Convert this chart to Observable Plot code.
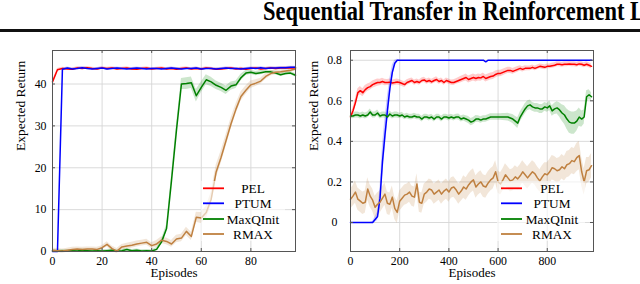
<!DOCTYPE html>
<html><head><meta charset="utf-8">
<script src="https://cdn.jsdelivr.net/npm/d3@7"></script>
<script src="https://cdn.jsdelivr.net/npm/@observablehq/plot@0.6"></script>
<style>
body{margin:0;background:#fff;}
#root{position:relative;width:640px;height:284px;overflow:hidden;background:#fff;font-family:"Liberation Serif",serif;}
#title{position:absolute;left:263px;top:-2px;font-size:22.5px;font-weight:bold;line-height:22px;white-space:nowrap;transform:scaleY(1.22);transform-origin:0 0;color:#000;}
#rule{position:absolute;left:0;top:29px;width:640px;height:3px;background:#111;}
.panel{position:absolute;top:40px;}
#legend{position:absolute;left:0;top:0;}
</style></head><body>
<div id="root"><div id="title">Sequential Transfer in Reinforcement Learning</div><div id="rule"></div>
<div id="left" class="panel" style="left:0"></div><div id="right" class="panel" style="left:310px"></div></div>
<script>
const seriesNames = ["PEL","PTUM","MaxQInit","RMAX"];
const seriesColors = ["#ff0000","#0000ff","#008000","#bf8040"];
const xTicksL=[0,20,40,60,80], yTicksL=[0,10,20,30,40];
const xTicksR=[0,200,400,600,800], yTicksR=[0,0.2,0.4,0.6,0.8];
const xLabel = "Episodes", yLabel = "Expected Return";
const serif = "'Liberation Serif', 'Times New Roman', serif";

// Left panel: episodes 0..98 step 2
const epL = d3.range(0, 99, 2);
const pelL = [40.5,43.4,43.7,43.6,43.5,43.8,43.7,43.9,43.7,43.6,
 43.8,43.7,43.8,43.6,43.7,43.8,43.6,43.5,43.7,43.8,
 43.6,43.7,43.8,43.6,43.7,43.5,43.7,43.8,43.6,43.7,
 43.6,43.8,43.7,43.5,43.6,43.7,43.8,43.6,43.7,43.5,
 43.7,43.8,43.6,43.7,43.8,43.7,43.8,43.9,43.8,43.8];
const ptumL = [0,0,43.5,43.8,43.6,43.7,43.9,43.7,43.6,43.7,
 43.8,43.6,43.7,43.8,43.7,43.6,43.7,43.8,43.7,43.6,
 43.7,43.7,43.6,43.7,43.8,43.7,43.6,43.7,43.7,43.8,
 43.6,43.7,43.7,43.6,43.7,43.8,43.7,43.7,43.6,43.7,
 43.8,43.7,43.9,43.7,43.8,43.8,43.9,43.9,44.0,44.0];
const maxqL = [0.2,0.1,0.2,0.1,0.2,0.1,0.3,0.2,0.1,0.2,
 0.1,0.2,0.3,0.1,0.2,0.5,0.2,0.3,0.1,0.2,
 0.1,0.5,2.3,5.5,17,29,40,40.1,40.3,37.2,
 39.2,41,40.5,39.7,39.2,38.5,39.5,39.8,41.5,42.6,
 42.8,42.5,42.7,42.9,42.9,42.6,42.2,42.5,42.6,42.1];
const rmaxL = [0.3,0.2,0.1,0.3,0.5,0.6,0.5,0.6,0.6,0.5,
 0.9,1.7,0.7,0.1,1.1,1.3,1.5,1.8,2.0,2.2,
 1.4,1.8,2.7,2.4,1.8,3.0,3.2,4.8,3.6,8.2,
 8.0,9.3,12.5,19,22.5,26.5,30.5,34,37,38.5,
 39.8,40.2,40.7,41.8,42.5,42.8,42.9,43.1,43.3,43.6];
const pelSdL = 0.3, ptumSdL = 0.25;
const maxqSdL = [0.3,0.3,0.3,0.3,0.3,0.3,0.3,0.3,0.3,0.3,
 0.3,0.3,0.3,0.3,0.3,0.3,0.3,0.3,0.3,0.3,
 0.3,0.4,0.6,0.9,1.1,1.2,1.3,1.4,1.4,1.5,
 1.3,1.2,1.1,1.0,1.0,1.0,1.0,0.9,0.8,0.6,
 0.5,0.5,0.5,0.4,0.4,0.4,0.4,0.4,0.4,0.4];
const rmaxSdL = [0.5,0.5,0.5,0.5,0.5,0.5,0.5,0.5,0.5,0.5,
 0.5,0.6,0.6,0.6,0.6,0.7,0.7,0.7,0.7,0.7,
 0.7,0.8,0.8,0.8,0.8,0.9,0.9,1.0,1.0,1.2,
 1.3,1.5,1.6,1.6,1.5,1.4,1.3,1.2,1.1,1.0,
 0.9,0.8,0.7,0.7,0.6,0.6,0.5,0.5,0.5,0.5];

// Right panel: episodes 0..980 step 10
const epR = d3.range(0, 990, 10);
const pelR = [0.52,0.55,0.59,0.64,0.65,0.64,0.655,0.665,0.67,0.68,
 0.685,0.69,0.69,0.695,0.69,0.69,0.692,0.688,0.69,0.693,
 0.69,0.685,0.68,0.69,0.695,0.70,0.69,0.695,0.69,0.70,
 0.703,0.695,0.70,0.693,0.70,0.705,0.695,0.70,0.69,0.70,
 0.695,0.69,0.69,0.695,0.70,0.705,0.71,0.715,0.705,0.71,
 0.715,0.71,0.715,0.713,0.72,0.71,0.715,0.72,0.722,0.73,
 0.735,0.735,0.74,0.745,0.75,0.75,0.745,0.75,0.755,0.76,
 0.755,0.76,0.76,0.76,0.765,0.76,0.765,0.77,0.768,0.765,
 0.77,0.77,0.773,0.775,0.78,0.78,0.778,0.78,0.78,0.782,
 0.78,0.78,0.778,0.782,0.78,0.775,0.78,0.775,0.77];
const ptumR = [0,0,0,0,0,0,0,0,0,0,
 0.015,0.03,0.12,0.30,0.43,0.55,0.66,0.74,0.785,0.80,
 0.8,0.8,0.8,0.8,0.8,0.8,0.8,0.8,0.8,0.8,
 0.8,0.8,0.8,0.8,0.8,0.8,0.8,0.8,0.8,0.8,
 0.8,0.8,0.8,0.8,0.8,0.8,0.8,0.8,0.8,0.8,
 0.8,0.8,0.8,0.8,0.8,0.792,0.8,0.8,0.8,0.8,
 0.8,0.8,0.8,0.8,0.8,0.8,0.8,0.8,0.8,0.8,
 0.8,0.8,0.8,0.8,0.8,0.8,0.8,0.8,0.8,0.8,
 0.8,0.8,0.8,0.8,0.8,0.8,0.8,0.8,0.8,0.8,
 0.8,0.8,0.8,0.8,0.8,0.8,0.8,0.8,0.8];
const maxqR = [0.525,0.525,0.53,0.53,0.525,0.53,0.525,0.53,0.545,0.53,
 0.53,0.54,0.525,0.53,0.53,0.52,0.535,0.525,0.53,0.53,
 0.525,0.53,0.52,0.525,0.52,0.52,0.525,0.52,0.52,0.51,
 0.52,0.52,0.515,0.52,0.51,0.52,0.52,0.51,0.52,0.52,
 0.515,0.52,0.515,0.52,0.52,0.51,0.515,0.51,0.505,0.495,
 0.50,0.51,0.51,0.505,0.51,0.51,0.515,0.52,0.52,0.52,
 0.52,0.52,0.52,0.52,0.52,0.515,0.51,0.50,0.49,0.52,
 0.54,0.56,0.575,0.58,0.57,0.565,0.565,0.56,0.56,0.57,
 0.565,0.575,0.55,0.56,0.565,0.555,0.54,0.53,0.51,0.495,
 0.49,0.49,0.50,0.52,0.51,0.52,0.62,0.63,0.62];
const rmaxR = [0.115,0.13,0.15,0.115,0.105,0.095,0.10,0.165,0.13,0.11,
 0.075,0.09,0.10,0.12,0.14,0.095,0.09,0.125,0.07,0.05,
 0.105,0.12,0.135,0.14,0.15,0.13,0.125,0.19,0.10,0.095,
 0.14,0.15,0.165,0.16,0.14,0.15,0.16,0.14,0.155,0.165,
 0.15,0.17,0.175,0.16,0.14,0.155,0.175,0.165,0.185,0.20,
 0.21,0.175,0.19,0.20,0.18,0.175,0.195,0.21,0.22,0.25,
 0.20,0.19,0.21,0.235,0.22,0.205,0.21,0.225,0.215,0.23,
 0.25,0.235,0.22,0.235,0.25,0.24,0.22,0.205,0.225,0.24,
 0.235,0.25,0.27,0.265,0.255,0.26,0.275,0.265,0.285,0.29,
 0.305,0.30,0.32,0.33,0.25,0.20,0.255,0.26,0.28];
const pelSdR = [0.010,0.015,0.020,0.020,0.020,0.020,0.020,0.018,0.018,0.018,
 0.018,0.018,0.016,0.016,0.016,0.015,0.015,0.015,0.015,0.015,
 0.014,0.014,0.014,0.014,0.014,0.013,0.013,0.013,0.013,0.013,
 0.013,0.013,0.013,0.013,0.013,0.013,0.013,0.013,0.013,0.013,
 0.013,0.013,0.014,0.014,0.015,0.016,0.016,0.017,0.017,0.017,
 0.017,0.017,0.017,0.017,0.017,0.017,0.017,0.017,0.017,0.017,
 0.016,0.016,0.016,0.015,0.015,0.015,0.014,0.014,0.014,0.013,
 0.013,0.013,0.012,0.012,0.012,0.012,0.012,0.012,0.012,0.012,
 0.012,0.012,0.012,0.012,0.012,0.012,0.012,0.012,0.012,0.012,
 0.012,0.012,0.012,0.012,0.012,0.012,0.012,0.012,0.012];
const ptumSdR = [0,0,0,0,0,0,0,0,0,0.005,
 0.012,0.02,0.05,0.08,0.08,0.07,0.05,0.035,0.015,0.005,
 0,0,0,0,0,0,0,0,0,0, 0,0,0,0,0,0,0,0,0,0,
 0,0,0,0,0,0,0,0,0,0, 0,0,0,0,0,0,0,0,0,0,
 0,0,0,0,0,0,0,0,0,0, 0,0,0,0,0,0,0,0,0,0,
 0,0,0,0,0,0,0,0,0,0, 0,0,0,0,0,0,0,0,0];
const maxqSdR = [0.012,0.014,0.015,0.015,0.015,0.015,0.015,0.015,0.015,0.015,
 0.015,0.015,0.015,0.015,0.015,0.015,0.015,0.015,0.015,0.015,
 0.014,0.014,0.014,0.014,0.014,0.014,0.014,0.014,0.014,0.014,
 0.014,0.014,0.014,0.014,0.014,0.014,0.014,0.014,0.014,0.014,
 0.014,0.014,0.014,0.014,0.015,0.015,0.015,0.016,0.017,0.018,
 0.018,0.017,0.016,0.016,0.016,0.016,0.016,0.016,0.016,0.016,
 0.016,0.016,0.017,0.018,0.019,0.020,0.022,0.024,0.026,0.025,
 0.025,0.025,0.024,0.024,0.022,0.022,0.022,0.022,0.022,0.022,
 0.022,0.024,0.026,0.028,0.030,0.035,0.040,0.045,0.050,0.055,
 0.055,0.055,0.050,0.045,0.040,0.035,0.030,0.025,0.020];
const rmaxSdR = [0.05,0.05,0.055,0.055,0.055,0.055,0.055,0.055,0.055,0.055,
 0.055,0.055,0.055,0.055,0.055,0.055,0.055,0.055,0.055,0.055,
 0.05,0.05,0.05,0.05,0.05,0.05,0.05,0.05,0.05,0.05,
 0.05,0.05,0.05,0.05,0.05,0.05,0.05,0.05,0.05,0.05,
 0.05,0.05,0.05,0.05,0.05,0.05,0.055,0.055,0.055,0.055,
 0.055,0.055,0.055,0.055,0.055,0.055,0.055,0.055,0.055,0.055,
 0.055,0.055,0.055,0.055,0.055,0.055,0.055,0.055,0.055,0.055,
 0.055,0.055,0.055,0.055,0.055,0.055,0.055,0.055,0.055,0.055,
 0.06,0.06,0.06,0.06,0.06,0.06,0.06,0.06,0.065,0.065,
 0.065,0.065,0.07,0.07,0.07,0.065,0.065,0.06,0.06];

function rows(ep, v, sd){
  return ep.map((e,i)=>{const s = Array.isArray(sd)?sd[i]:sd; return {ep:e, v:v[i], lo:v[i]-s, hi:v[i]+s};});
}

function panel({width, ml, mr, xd, yd, xt, yt, sets, ylabDx, yTextAnchor, yPad}){
  const H = 244, mt = 10, mb = 33;
  const fw = width - ml - mr, fh = H - mt - mb, tk = 3;
  const grid = {stroke:"#d6d6d6", strokeOpacity:1, strokeWidth:0.9};
  const tick = {stroke:"#555", strokeWidth:1};
  const marks = [Plot.ruleX(xt, {x:d=>d, ...grid}), Plot.ruleY(yt, {y:d=>d, ...grid})];
  sets.forEach((d,i)=>marks.push(Plot.areaY(d,{x:"ep", y1:"lo", y2:"hi", fill:seriesColors[i], fillOpacity:0.2})));
  sets.forEach((d,i)=>marks.push(Plot.lineY(d,{x:"ep", y:"v", stroke:seriesColors[i], strokeWidth:1.5})));
  marks.push(
    Plot.frame({stroke:"#555"}),
    Plot.ruleX(xt, {x:d=>d, insetTop:fh-tk, ...tick}),
    Plot.ruleX(xt, {x:d=>d, insetBottom:fh-tk, ...tick}),
    Plot.ruleY(yt, {y:d=>d, insetRight:fw-tk, ...tick}),
    Plot.ruleY(yt, {y:d=>d, insetLeft:fw-tk, ...tick}),
    Plot.text(xt, {x:d=>d, frameAnchor:"bottom", dy:5, lineAnchor:"top", text:d=>String(d), fontSize:11.8}),
    Plot.text(yt, {y:d=>d, frameAnchor:"left", dx:-yPad, textAnchor:yTextAnchor, text:d=>String(d), fontSize:11.8}),
    Plot.text([xLabel],{frameAnchor:"bottom", dy:25.5, fontSize:13, text:d=>d}),
    Plot.text([yLabel],{frameAnchor:"left", dx:ylabDx, rotate:-90, fontSize:13.5, text:d=>d})
  );
  return Plot.plot({width, height:H, marginLeft:ml, marginRight:mr, marginTop:mt, marginBottom:mb,
    style:{fontFamily:serif, fontSize:"12px", background:"transparent", color:"#000", overflow:"visible"},
    x:{domain:xd, axis:null}, y:{domain:yd, axis:null}, marks});
}

document.getElementById("left").appendChild(panel({
  width:310, ml:52, mr:15, xd:[0,98], yd:[0,48], xt:xTicksL, yt:yTicksL,
  sets:[rows(epL,pelL,pelSdL), rows(epL,ptumL,ptumSdL), rows(epL,maxqL,maxqSdL), rows(epL,rmaxL,rmaxSdL)],
  ylabDx:-32, yTextAnchor:"end", yPad:6
}));
document.getElementById("right").appendChild(panel({
  width:330, ml:40, mr:47, xd:[0,988], yd:[-0.143,0.848], xt:xTicksR, yt:yTicksR,
  sets:[rows(epR,pelR,pelSdR), rows(epR,ptumR,ptumSdR), rows(epR,maxqR,maxqSdR), rows(epR,rmaxR,rmaxSdR)],
  ylabDx:-37, yTextAnchor:"middle", yPad:16
}));

// Legends (semi-transparent white boxes, no border)
const leg = d3.select("#root").append("svg").attr("id","legend").attr("width",640).attr("height",284);
const legendBoxes = [{x:201, y:181, w:84, h:60, l1:203, l2:224, tx:253}, {x:497, y:181, w:88, h:60, l1:501, l2:522, tx:552}];
const rowY = [188.3, 203.3, 219, 234];
legendBoxes.forEach(b=>{
  leg.append("rect").attr("x",b.x).attr("y",b.y).attr("width",b.w).attr("height",b.h).attr("fill","#fff").attr("fill-opacity",0.6);
  seriesNames.forEach((n,i)=>{
    leg.append("line").attr("x1",b.l1).attr("x2",b.l2).attr("y1",rowY[i]).attr("y2",rowY[i])
      .attr("stroke",seriesColors[i]).attr("stroke-width",1.8);
    leg.append("text").attr("x",b.tx).attr("y",rowY[i]).attr("dy","0.35em").attr("text-anchor","middle")
      .attr("font-family",serif).attr("font-size",13.3).attr("fill","#000").text(n);
  });
});
</script></body></html>
